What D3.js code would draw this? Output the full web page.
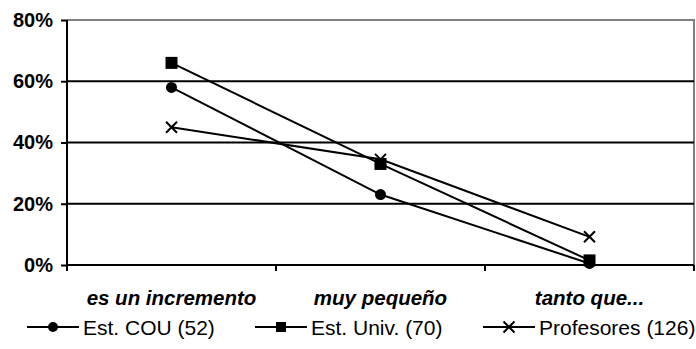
<!DOCTYPE html>
<html>
<head>
<meta charset="utf-8">
<script src="https://cdn.jsdelivr.net/npm/d3@7"></script>
<style>
  html, body { margin: 0; padding: 0; background: #fff; }
  svg { display: block; font-family: "Liberation Sans", Arial, sans-serif; }
</style>
</head>
<body>
<svg id="chart" width="696" height="349"></svg>
<script>
// Categories along the x axis
const categories = ["es un incremento", "muy pequeño", "tanto que..."];
// Y axis ticks (percent)
const yTicks = [0, 20, 40, 60, 80];
// Series values (percent)
const seriesNames = ["Est. COU (52)", "Est. Univ. (70)", "Profesores (126)"];
const seriesMarkers = ["circle", "square", "cross"];
const estCOU = [58, 23, 0.5];
const estUniv = [66, 33, 1.5];
const profesores = [45, 34.5, 9.2];
const seriesValues = [estCOU, estUniv, profesores];

const svg = d3.select("#chart");
const margin = { left: 67, right: 2, top: 20, bottom: 84 };
const W = 696, H = 349;
const x0 = margin.left, x1 = W - margin.right;
const y0 = H - margin.bottom, y1 = margin.top;

const x = d3.scaleBand().domain(categories).range([x0, x1]);
const y = d3.scaleLinear().domain([0, 80]).range([y0, y1]);

// Plot frame (grey) on top and right
svg.append("path")
  .attr("d", `M${x0},${y1}H${x1}V${y0}`)
  .attr("fill", "none").attr("stroke", "#808080").attr("stroke-width", 2);

// Horizontal gridlines
svg.append("g").selectAll("line")
  .data(yTicks.filter(t => t > 0 && t < 80))
  .join("line")
  .attr("x1", x0).attr("x2", x1)
  .attr("y1", d => y(d)).attr("y2", d => y(d))
  .attr("stroke", "#000").attr("stroke-width", 2);

// Y axis
const yAxis = svg.append("g")
  .attr("transform", `translate(${x0},0)`)
  .call(d3.axisLeft(y).tickValues(yTicks).tickFormat(d => d + "%").tickSize(6).tickPadding(8));
yAxis.select(".domain").attr("stroke", "#000").attr("stroke-width", 2).attr("d", `M0,${y1}V${y0 + 6}`);
yAxis.selectAll(".tick line").attr("stroke", "#000").attr("stroke-width", 2);
yAxis.selectAll(".tick text")
  .attr("font-family", "Liberation Sans, Arial, sans-serif")
  .attr("font-size", 20).attr("font-weight", "bold").attr("fill", "#000");

// X axis baseline with ticks at category boundaries
svg.append("line")
  .attr("x1", x0).attr("x2", x1).attr("y1", y0).attr("y2", y0)
  .attr("stroke", "#000").attr("stroke-width", 2);
const bounds = categories.map(c => x(c)).concat([x1]);
svg.append("g").selectAll("line")
  .data(bounds).join("line")
  .attr("x1", d => d).attr("x2", d => d)
  .attr("y1", y0).attr("y2", y0 + 6)
  .attr("stroke", "#000").attr("stroke-width", 2);

// Category labels
svg.append("g").selectAll("text")
  .data(categories).join("text")
  .attr("x", d => x(d) + x.bandwidth() / 2)
  .attr("y", y0 + 40)
  .attr("text-anchor", "middle")
  .attr("font-size", 20.5).attr("font-weight", "bold").attr("font-style", "italic")
  .text(d => d);

const cx = c => x(c) + x.bandwidth() / 2;

function drawMarker(g, type, px, py, size) {
  if (type === "circle") {
    g.append("circle").attr("cx", px).attr("cy", py).attr("r", size / 2).attr("fill", "#000");
  } else if (type === "square") {
    const h = size / 2;
    g.append("rect").attr("x", px - h).attr("y", py - h).attr("width", size).attr("height", size)
      .attr("fill", "#000");
  } else {
    const s = size / 2;
    g.append("path")
      .attr("d", `M${px - s},${py - s}L${px + s},${py + s}M${px - s},${py + s}L${px + s},${py - s}`)
      .attr("stroke", "#000").attr("stroke-width", 2).attr("fill", "none");
  }
}

// Series lines and markers
const line = d3.line().x((d, i) => cx(categories[i])).y(d => y(d));
const plotSizes = { circle: 11, square: 12, cross: 11 };
seriesValues.forEach((vals, si) => {
  const g = svg.append("g");
  g.append("path").datum(vals).attr("d", line)
    .attr("fill", "none").attr("stroke", "#000").attr("stroke-width", 2);
  vals.forEach((v, i) => drawMarker(g, seriesMarkers[si], cx(categories[i]), y(v), plotSizes[seriesMarkers[si]]));
});

// Legend
const legendY = 327;
const legendX = [27, 255, 483];
const legendSizes = { circle: 10, square: 10, cross: 11 };
seriesNames.forEach((name, i) => {
  const g = svg.append("g");
  const lx = legendX[i];
  g.append("line").attr("x1", lx).attr("x2", lx + 52).attr("y1", legendY).attr("y2", legendY)
    .attr("stroke", "#000").attr("stroke-width", 2);
  drawMarker(g, seriesMarkers[i], lx + 26, legendY, legendSizes[seriesMarkers[i]]);
  g.append("text").attr("x", lx + 56).attr("y", legendY + 7.5)
    .attr("font-size", 21).text(name);
});
</script>
</body>
</html>
